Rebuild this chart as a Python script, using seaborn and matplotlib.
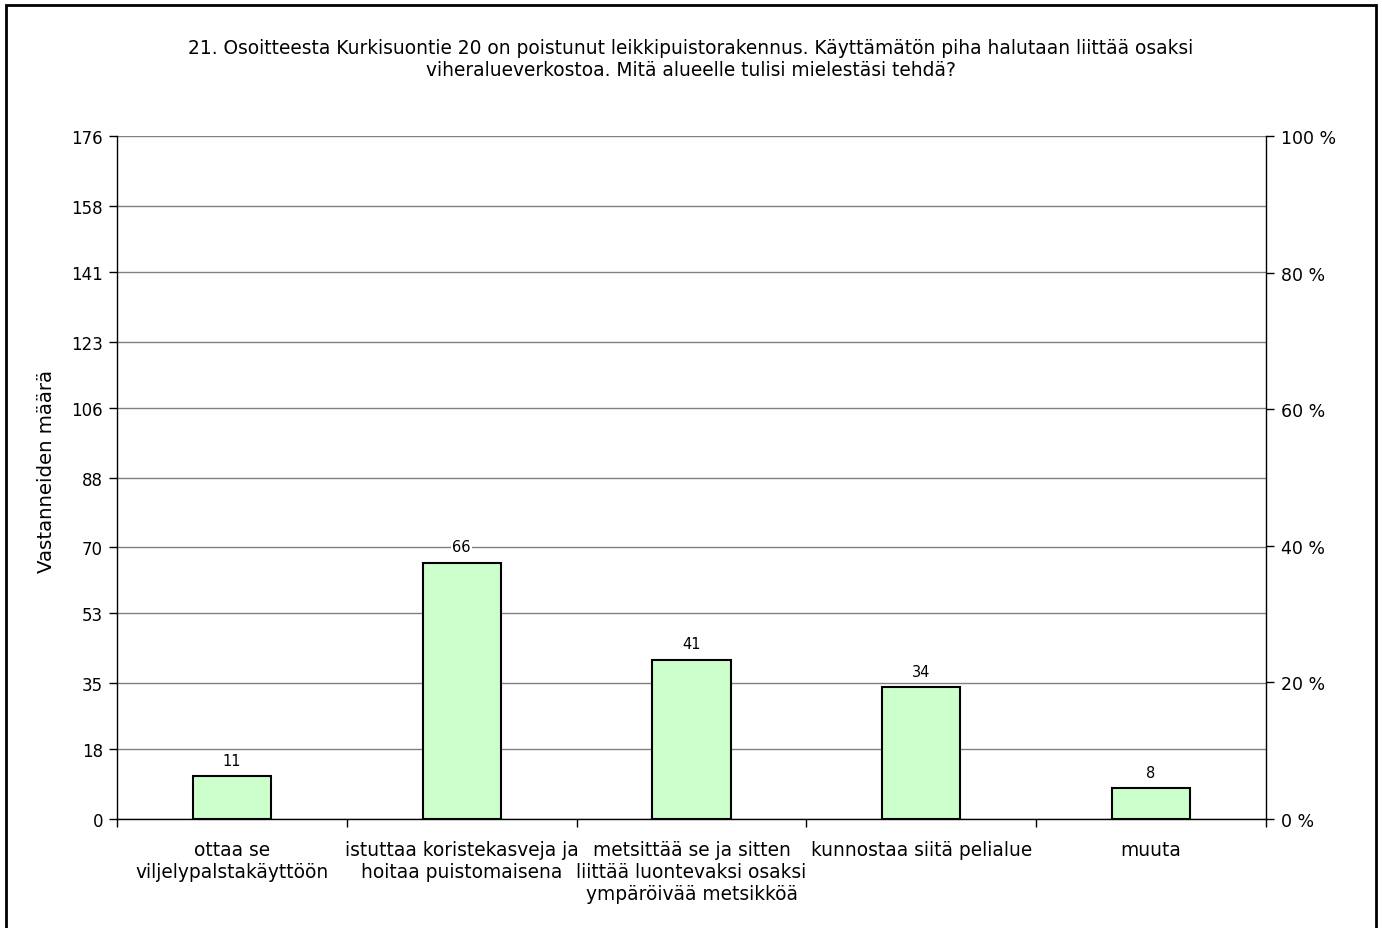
import matplotlib.pyplot as plt
import matplotlib.ticker as mticker
from matplotlib.patches import Rectangle
import seaborn as sns
import pandas as pd

# kysymyksen 21 vastaukset
categories = [
    'ottaa se\nviljelypalstakäyttöön',
    'istuttaa koristekasveja ja\nhoitaa puistomaisena',
    'metsittää se ja sitten\nliittää luontevaksi osaksi\nympäröivää metsikköä',
    'kunnostaa siitä pelialue',
    'muuta',
]
counts = [11, 66, 41, 34, 8]
left_ticks = [0, 18, 35, 53, 70, 88, 106, 123, 141, 158, 176]
right_ticks = [0, 20, 40, 60, 80, 100]
title = ('21. Osoitteesta Kurkisuontie 20 on poistunut leikkipuistorakennus. '
         'Käyttämätön piha halutaan liittää osaksi\n'
         'viheralueverkostoa. Mitä alueelle tulisi mielestäsi tehdä?')

df = pd.DataFrame({'vaihtoehto': categories, 'maara': counts})

sns.set_style('white')
plt.rcParams['font.family'] = ['DejaVu Sans']
plt.rcParams['text.color'] = 'black'
plt.rcParams['xtick.color'] = 'black'
plt.rcParams['ytick.color'] = 'black'

fig = plt.figure(figsize=(13.82, 9.29), dpi=100)
ax = fig.add_axes([117 / 1382, 1 - 820 / 929, (1266 - 117) / 1382, (820 - 137) / 929])

sns.barplot(data=df, x='vaihtoehto', y='maara', ax=ax, color='#CCFFCC',
            saturation=1, edgecolor='black', linewidth=1.5, width=0.34, zorder=3)

ax.set_xlim(-0.5, len(categories) - 0.5)
ax.set_ylim(0, 176)
ax.set_yticks(left_ticks)
ax.set_yticklabels([str(t) for t in left_ticks], fontsize=12)
ax.yaxis.grid(True, color='#808080', linewidth=1)
ax.set_axisbelow(True)
ax.tick_params(axis='y', direction='out', length=6, width=1, color='black', pad=4, left=True)

# kategoriat rajojen väliin, tikit rajoille
ax.set_xticks(range(len(categories)))
ax.set_xticklabels(categories, fontsize=13.4, color='black')
ax.tick_params(axis='x', which='major', length=0, pad=15)
ax.set_xticks([i - 0.5 for i in range(len(categories) + 1)], minor=True)
ax.tick_params(axis='x', which='minor', direction='out', length=6, width=1, color='black', bottom=True)
ax.set_xlabel('')
ax.set_ylabel('Vastanneiden määrä', fontsize=14.2, color='black')
ax.yaxis.set_label_coords(-0.053, 0.51)

for side in ['left', 'right', 'bottom']:
    ax.spines[side].set_visible(True)
    ax.spines[side].set_color('black')
    ax.spines[side].set_linewidth(1)
ax.spines['top'].set_visible(False)

for i, v in enumerate(counts):
    ax.text(i, v + 4.1, str(v), ha='center', va='center', fontsize=10.5,
            bbox=dict(facecolor='white', edgecolor='none', pad=1), zorder=4)

ax2 = ax.twinx()
ax2.set_ylim(0, 100)
ax2.set_yticks(right_ticks)
ax2.yaxis.set_major_formatter(mticker.FuncFormatter(lambda v, p: f'{int(v)} %'))
ax2.tick_params(axis='y', direction='out', length=6, width=1, color='black', labelsize=12.5, right=True, pad=5)
for side in ['left', 'right', 'bottom', 'top']:
    ax2.spines[side].set_visible(False)

fig.text(0.5, 1 - 59 / 929, title, ha='center', va='center', fontsize=13.4, linespacing=1.2)

# kehys kuvan ympärille
fig.add_artist(Rectangle((6 / 1382, -0.05), (1376 - 6) / 1382, 1.05 - 6 / 929,
                         transform=fig.transFigure, fill=False, edgecolor='black', linewidth=2))

fig.savefig('out.png', dpi=100)
